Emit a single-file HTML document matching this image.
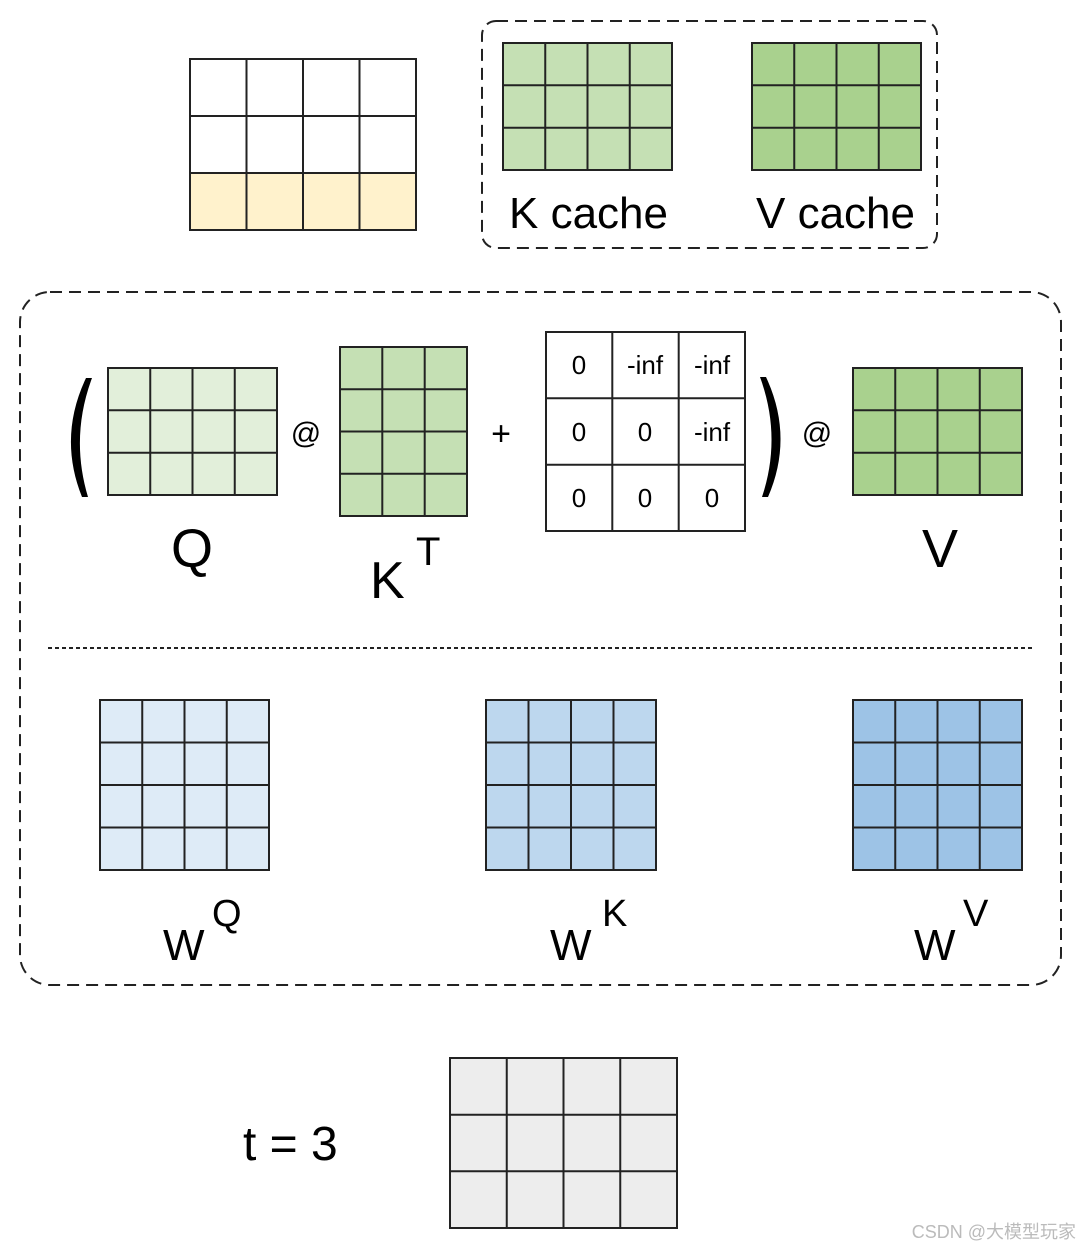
<!DOCTYPE html>
<html><head><meta charset="utf-8"><style>html,body{margin:0;padding:0;background:#fff}svg{display:block}</style></head><body>
<svg width="1080" height="1248" viewBox="0 0 1080 1248" xmlns="http://www.w3.org/2000/svg" font-family="Liberation Sans, DejaVu Sans, sans-serif">
<g stroke="#222" stroke-width="2">
<!-- top grid -->
<rect x="190" y="59" width="226" height="171" fill="#fff"/>
<rect x="190" y="173" width="226" height="57" fill="#fff2cc"/>
<path d="M246.5 59V230M303 59V230M359.5 59V230M190 116H416M190 173H416" fill="none"/>
<!-- K cache -->
<rect x="503" y="43" width="169" height="127" fill="#c5e0b4"/>
<path d="M545.25 43V170M587.5 43V170M629.75 43V170M503 85.3H672M503 127.7H672" fill="none"/>
<!-- V cache -->
<rect x="752" y="43" width="169" height="127" fill="#a9d18e"/>
<path d="M794.25 43V170M836.5 43V170M878.75 43V170M752 85.3H921M752 127.7H921" fill="none"/>
<!-- Q -->
<rect x="108" y="368" width="169" height="127" fill="#e2efda"/>
<path d="M150.25 368V495M192.5 368V495M234.75 368V495M108 410.3H277M108 452.7H277" fill="none"/>
<!-- KT -->
<rect x="340" y="347" width="127" height="169" fill="#c5e0b4"/>
<path d="M382.3 347V516M424.7 347V516M340 389.25H467M340 431.5H467M340 473.75H467" fill="none"/>
<!-- mask -->
<rect x="546" y="332" width="199" height="199" fill="#fff"/>
<path d="M612.3 332V531M678.7 332V531M546 398.3H745M546 464.7H745" fill="none"/>
<!-- V -->
<rect x="853" y="368" width="169" height="127" fill="#a9d18e"/>
<path d="M895.25 368V495M937.5 368V495M979.75 368V495M853 410.3H1022M853 452.7H1022" fill="none"/>
<!-- WQ -->
<rect x="100" y="700" width="169" height="170" fill="#deebf7"/>
<path d="M142.25 700V870M184.5 700V870M226.75 700V870M100 742.5H269M100 785H269M100 827.5H269" fill="none"/>
<!-- WK -->
<rect x="486" y="700" width="170" height="170" fill="#bdd7ee"/>
<path d="M528.5 700V870M571 700V870M613.5 700V870M486 742.5H656M486 785H656M486 827.5H656" fill="none"/>
<!-- WV -->
<rect x="853" y="700" width="169" height="170" fill="#9dc3e6"/>
<path d="M895.25 700V870M937.5 700V870M979.75 700V870M853 742.5H1022M853 785H1022M853 827.5H1022" fill="none"/>
<!-- bottom -->
<rect x="450" y="1058" width="227" height="170" fill="#ededed"/>
<path d="M506.75 1058V1228M563.5 1058V1228M620.25 1058V1228M450 1114.7H677M450 1171.3H677" fill="none"/>
</g>
<!-- dashed boxes -->
<rect x="482" y="21" width="455" height="227" rx="14" fill="none" stroke="#222" stroke-width="2" stroke-dasharray="12 7"/>
<rect x="20" y="292" width="1041" height="693" rx="30" fill="none" stroke="#222" stroke-width="2" stroke-dasharray="12 7"/>
<line x1="48" y1="648" x2="1033" y2="648" stroke="#222" stroke-width="2" stroke-dasharray="4 3"/>
<!-- parens -->
<path d="M86 378 Q58 437 82 497 L88 497 Q70 437 92 378 Z" fill="#000"/>
<path d="M766 377 Q794 437 768 497 L762 497 Q782 437 760 377 Z" fill="#000"/>
<g fill="#000">
<text x="509" y="228" font-size="44">K cache</text>
<text x="756" y="228" font-size="44">V cache</text>
<text x="192" y="567" font-size="54" text-anchor="middle">Q</text>
<text x="370" y="598" font-size="52">K</text>
<text x="416" y="565" font-size="40">T</text>
<text x="940" y="567" font-size="54" text-anchor="middle">V</text>
<text x="306" y="443" font-size="30" text-anchor="middle">@</text>
<text x="817" y="443" font-size="30" text-anchor="middle">@</text>
<text x="501" y="445" font-size="34" text-anchor="middle">+</text>
<g font-size="26" text-anchor="middle">
<text x="579" y="374">0</text><text x="645" y="374">-inf</text><text x="712" y="374">-inf</text>
<text x="579" y="441">0</text><text x="645" y="441">0</text><text x="712" y="441">-inf</text>
<text x="579" y="507">0</text><text x="645" y="507">0</text><text x="712" y="507">0</text>
</g>
<text x="163" y="960" font-size="44">W</text><text x="212" y="926" font-size="38">Q</text>
<text x="550" y="960" font-size="44">W</text><text x="602" y="926" font-size="38">K</text>
<text x="914" y="960" font-size="44">W</text><text x="963" y="926" font-size="38">V</text>
<text x="243" y="1160" font-size="48">t = 3</text>
</g>
<text x="1076" y="1238" font-size="18" fill="#bbb" text-anchor="end" font-family="Liberation Sans, Noto Sans CJK SC, sans-serif">CSDN @大模型玩家</text>
</svg>
</body></html>
